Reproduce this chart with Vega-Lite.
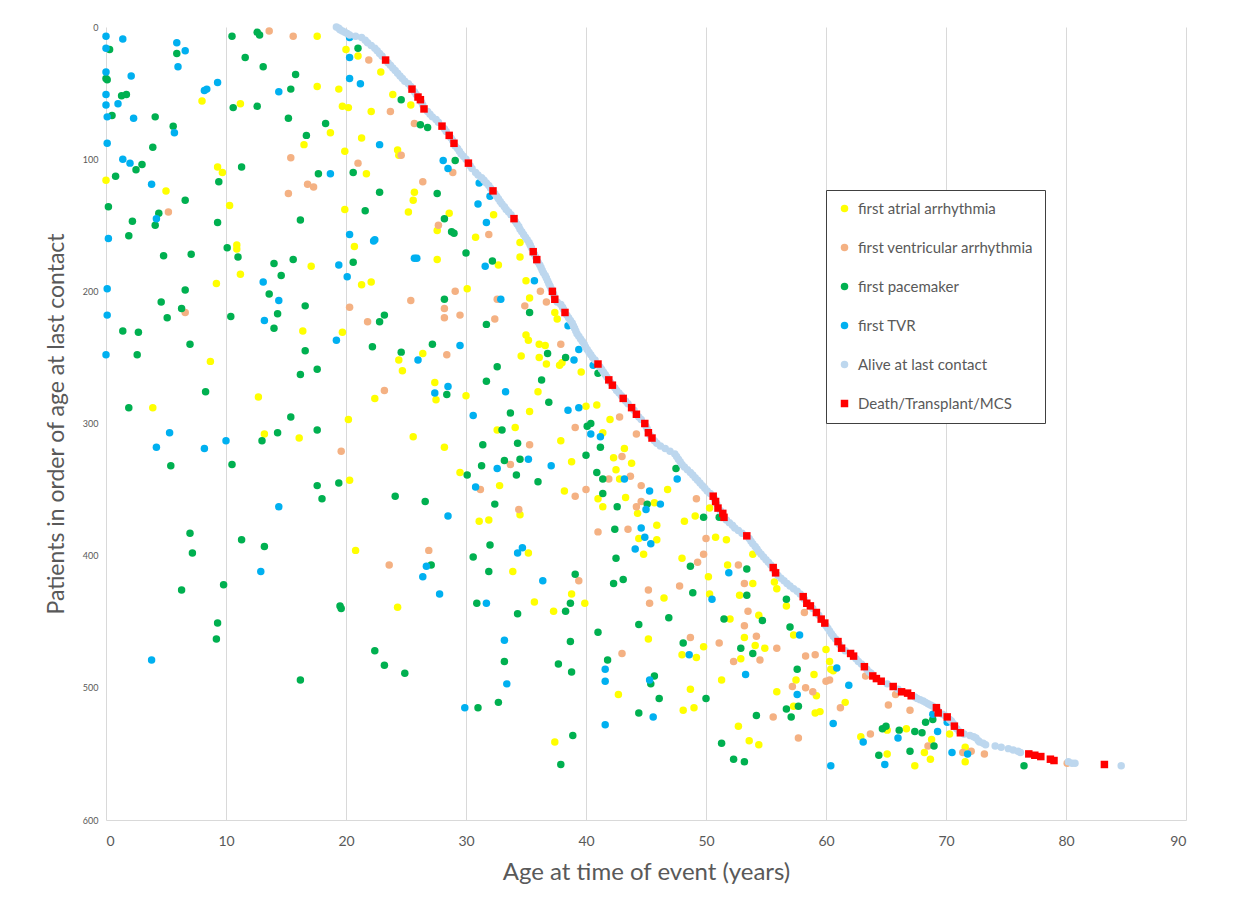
{
"$schema":"https://vega.github.io/schema/vega-lite/v6.json",
"width":1080,"height":793,
"autosize":{"type":"none"},
"padding":{"left":106,"top":27,"right":50,"bottom":84},
"background":"white",
"config":{"font":"Lato","view":{"stroke":null}},
"data":{"values":[
{"s":"a","x":17.6,"y":7},{"s":"a","x":20.0,"y":17},{"s":"a","x":21.0,"y":22},{"s":"a","x":22.9,"y":34},{"s":"a","x":23.9,"y":51},{"s":"a","x":25.4,"y":59},{"s":"a","x":17.6,"y":45},{"s":"a","x":19.4,"y":47},{"s":"a","x":19.7,"y":60},{"s":"a","x":20.2,"y":61},{"s":"a","x":22.1,"y":64},{"s":"a","x":21.3,"y":84},{"s":"a","x":18.7,"y":80},{"s":"a","x":16.5,"y":89},{"s":"a","x":19.9,"y":94},{"s":"a","x":24.3,"y":93},{"s":"a","x":24.4,"y":97},{"s":"a","x":21.7,"y":111},{"s":"a","x":25.7,"y":125},{"s":"a","x":25.6,"y":131},{"s":"a","x":25.2,"y":140},{"s":"a","x":28.6,"y":141},{"s":"a","x":27.6,"y":154},{"s":"a","x":27.6,"y":176},{"s":"a","x":19.9,"y":138},{"s":"a","x":20.7,"y":166},{"s":"a","x":17.1,"y":181},{"s":"a","x":21.3,"y":195},{"s":"a","x":22.1,"y":193},{"s":"a","x":11.2,"y":58},{"s":"a","x":8.0,"y":56},{"s":"a","x":0,"y":116},{"s":"a","x":5.0,"y":124},{"s":"a","x":9.3,"y":106},{"s":"a","x":9.7,"y":110},{"s":"a","x":10.3,"y":135},{"s":"a","x":10.9,"y":165},{"s":"a","x":10.9,"y":168},{"s":"a","x":11.2,"y":187},{"s":"a","x":9.2,"y":194},
{"s":"a","x":8.7,"y":253},{"s":"a","x":3.9,"y":288},{"s":"a","x":12.7,"y":280},{"s":"a","x":13.2,"y":308},{"s":"a","x":16.1,"y":311},{"s":"a","x":16.4,"y":230},{"s":"a","x":19.7,"y":231},{"s":"a","x":20.2,"y":297},{"s":"a","x":22.4,"y":281},{"s":"a","x":24.4,"y":252},{"s":"a","x":24.7,"y":260},{"s":"a","x":26.4,"y":247},{"s":"a","x":27.4,"y":269},{"s":"a","x":27.5,"y":282},{"s":"a","x":25.6,"y":310},{"s":"a","x":28.2,"y":318},{"s":"a","x":29.5,"y":337},{"s":"a","x":20.3,"y":343},{"s":"a","x":20.8,"y":396},{"s":"a","x":24.3,"y":439},
{"s":"a","x":30.8,"y":159},{"s":"a","x":32.3,"y":142},{"s":"a","x":32.7,"y":180},{"s":"a","x":34.5,"y":163},{"s":"a","x":34.5,"y":174},{"s":"a","x":35.0,"y":192},{"s":"a","x":35.3,"y":205},{"s":"a","x":30.1,"y":198},
{"s":"a","x":37.4,"y":216},{"s":"a","x":37.6,"y":221},{"s":"a","x":35.0,"y":233},{"s":"a","x":35.2,"y":237},{"s":"a","x":36.1,"y":240},{"s":"a","x":36.6,"y":241},{"s":"a","x":34.6,"y":249},{"s":"a","x":36.1,"y":250},{"s":"a","x":36.7,"y":255},{"s":"a","x":37.8,"y":256},{"s":"a","x":38.0,"y":254},{"s":"a","x":36.0,"y":276},{"s":"a","x":39.6,"y":261},{"s":"a","x":30.0,"y":279},{"s":"a","x":35.3,"y":291},{"s":"a","x":40.0,"y":287},{"s":"a","x":40.9,"y":286},{"s":"a","x":32.6,"y":305},{"s":"a","x":34.1,"y":303},{"s":"a","x":41.4,"y":307},{"s":"a","x":37.9,"y":313},{"s":"a","x":38.8,"y":329},{"s":"a","x":32.8,"y":347},{"s":"a","x":38.2,"y":351},{"s":"a","x":31.1,"y":374},{"s":"a","x":31.9,"y":373},{"s":"a","x":34.5,"y":369},{"s":"a","x":35.2,"y":398},{"s":"a","x":33.9,"y":412},{"s":"a","x":42.0,"y":297},{"s":"a","x":43.2,"y":319},{"s":"a","x":42.3,"y":326},{"s":"a","x":43.8,"y":330},{"s":"a","x":42.5,"y":335},{"s":"a","x":42.8,"y":342},{"s":"a","x":41.0,"y":357},{"s":"a","x":41.4,"y":363},{"s":"a","x":43.3,"y":356},{"s":"a","x":44.3,"y":368},{"s":"a","x":45.7,"y":360},{"s":"a","x":45.9,"y":377},{"s":"a","x":45.9,"y":388},{"s":"a","x":44.8,"y":399},{"s":"a","x":44.4,"y":387},{"s":"a","x":46.8,"y":350},{"s":"a","x":48.2,"y":374},{"s":"a","x":49.1,"y":370},{"s":"a","x":48.0,"y":402},{"s":"a","x":50.2,"y":416},{"s":"a","x":50.8,"y":386},{"s":"a","x":51.7,"y":388},{"s":"a","x":50.3,"y":364},{"s":"a","x":51.8,"y":407},{"s":"a","x":53.9,"y":399},{"s":"a","x":53.9,"y":421},{"s":"a","x":55.7,"y":420},{"s":"a","x":55.9,"y":425},{"s":"a","x":46.5,"y":432},{"s":"a","x":50.3,"y":429},{"s":"a","x":52.8,"y":430},
{"s":"a","x":35.7,"y":435},{"s":"a","x":37.3,"y":442},{"s":"a","x":39.9,"y":436},{"s":"a","x":38.8,"y":429},{"s":"a","x":45.2,"y":463},{"s":"a","x":48.7,"y":501},{"s":"a","x":48.1,"y":517},{"s":"a","x":49.0,"y":515},{"s":"a","x":48.0,"y":475},{"s":"a","x":49.2,"y":477},{"s":"a","x":49.8,"y":469},{"s":"a","x":51.3,"y":494},{"s":"a","x":52.0,"y":448},{"s":"a","x":53.2,"y":462},{"s":"a","x":52.9,"y":478},{"s":"a","x":54.1,"y":468},{"s":"a","x":54.9,"y":470},{"s":"a","x":54.4,"y":445},{"s":"a","x":56.7,"y":438},{"s":"a","x":57.3,"y":460},{"s":"a","x":55.9,"y":503},{"s":"a","x":57.5,"y":494},{"s":"a","x":57.3,"y":514},{"s":"a","x":59.0,"y":490},{"s":"a","x":59.2,"y":506},{"s":"a","x":59.1,"y":519},{"s":"a","x":59.5,"y":518},{"s":"a","x":60.0,"y":471},{"s":"a","x":60.3,"y":480},{"s":"a","x":60.4,"y":486},{"s":"a","x":52.7,"y":529},{"s":"a","x":53.6,"y":540},{"s":"a","x":54.4,"y":543},{"s":"a","x":37.4,"y":541},{"s":"a","x":42.7,"y":505},
{"s":"a","x":60.6,"y":487},{"s":"a","x":61.6,"y":511},{"s":"a","x":62.9,"y":537},{"s":"a","x":65.1,"y":532},{"s":"a","x":66.7,"y":531},{"s":"a","x":65.1,"y":550},{"s":"a","x":67.4,"y":559},{"s":"a","x":68.2,"y":549},{"s":"a","x":68.7,"y":554},{"s":"a","x":68.8,"y":539},{"s":"a","x":70.3,"y":535},{"s":"a","x":71.6,"y":545},{"s":"a","x":71.6,"y":556},
{"s":"v","x":13.6,"y":3},{"s":"v","x":15.6,"y":7},{"s":"v","x":21.9,"y":25},{"s":"v","x":23.7,"y":64},{"s":"v","x":25.7,"y":73},{"s":"v","x":24.6,"y":97},{"s":"v","x":15.4,"y":99},{"s":"v","x":21.0,"y":103},{"s":"v","x":26.4,"y":117},{"s":"v","x":28.9,"y":110},{"s":"v","x":16.8,"y":119},{"s":"v","x":17.3,"y":121},{"s":"v","x":15.2,"y":126},{"s":"v","x":5.2,"y":140},{"s":"v","x":27.7,"y":150},{"s":"v","x":29.1,"y":200},{"s":"v","x":25.4,"y":207},{"s":"v","x":20.3,"y":212},{"s":"v","x":28.2,"y":213},
{"s":"v","x":6.6,"y":216},{"s":"v","x":21.8,"y":223},{"s":"v","x":23.2,"y":275},{"s":"v","x":19.6,"y":321},{"s":"v","x":28.2,"y":220},{"s":"v","x":28.4,"y":248},{"s":"v","x":29.5,"y":218},{"s":"v","x":26.9,"y":396},{"s":"v","x":23.6,"y":407},
{"s":"v","x":31.9,"y":157},{"s":"v","x":36.2,"y":200},{"s":"v","x":36.7,"y":208},{"s":"v","x":34.9,"y":211},{"s":"v","x":32.6,"y":206},
{"s":"v","x":32.4,"y":221},{"s":"v","x":37.9,"y":240},{"s":"v","x":39.1,"y":303},{"s":"v","x":35.3,"y":316},{"s":"v","x":33.7,"y":331},{"s":"v","x":31.2,"y":350},{"s":"v","x":40.0,"y":350},{"s":"v","x":39.1,"y":355},{"s":"v","x":34.4,"y":365},{"s":"v","x":39.4,"y":419},{"s":"v","x":42.8,"y":295},{"s":"v","x":44.2,"y":308},{"s":"v","x":43.0,"y":325},{"s":"v","x":41.9,"y":342},{"s":"v","x":43.7,"y":340},{"s":"v","x":44.2,"y":363},{"s":"v","x":44.6,"y":347},{"s":"v","x":44.6,"y":359},{"s":"v","x":41.0,"y":382},{"s":"v","x":43.5,"y":380},{"s":"v","x":49.2,"y":357},{"s":"v","x":50.0,"y":387},{"s":"v","x":49.8,"y":399},{"s":"v","x":49.3,"y":405},{"s":"v","x":52.7,"y":407},{"s":"v","x":53.2,"y":421},{"s":"v","x":47.8,"y":423},{"s":"v","x":45.2,"y":426},
{"s":"v","x":45.3,"y":436},{"s":"v","x":53.5,"y":442},{"s":"v","x":53.2,"y":453},{"s":"v","x":54.2,"y":461},{"s":"v","x":51.1,"y":466},{"s":"v","x":52.3,"y":480},{"s":"v","x":54.5,"y":479},{"s":"v","x":55.9,"y":470},{"s":"v","x":58.3,"y":476},{"s":"v","x":59.1,"y":475},{"s":"v","x":58.3,"y":500},{"s":"v","x":57.2,"y":499},{"s":"v","x":58.9,"y":503},{"s":"v","x":55.6,"y":522},{"s":"v","x":57.7,"y":538},{"s":"v","x":43.0,"y":474},{"s":"v","x":48.7,"y":462},{"s":"v","x":58.2,"y":443},{"s":"v","x":60.0,"y":495},{"s":"v","x":60.3,"y":494},{"s":"v","x":61.2,"y":515},
{"s":"v","x":63.3,"y":491},{"s":"v","x":63.7,"y":535},{"s":"v","x":65.2,"y":513},{"s":"v","x":65.8,"y":505},{"s":"v","x":67.0,"y":517},{"s":"v","x":68.5,"y":544},{"s":"v","x":71.4,"y":549},{"s":"v","x":72.1,"y":548},{"s":"v","x":73.2,"y":550},{"s":"v","x":80.1,"y":557},
{"s":"p","x":0.3,"y":17},{"s":"p","x":0,"y":39},{"s":"p","x":0.1,"y":40},{"s":"p","x":1.3,"y":52},{"s":"p","x":1.7,"y":51},{"s":"p","x":0.5,"y":67},{"s":"p","x":4.1,"y":68},{"s":"p","x":5.6,"y":75},{"s":"p","x":3.9,"y":91},{"s":"p","x":2.5,"y":108},{"s":"p","x":3.0,"y":104},{"s":"p","x":0.8,"y":113},{"s":"p","x":0.2,"y":136},{"s":"p","x":2.2,"y":147},{"s":"p","x":4.4,"y":141},{"s":"p","x":4.1,"y":150},{"s":"p","x":1.9,"y":158},{"s":"p","x":4.8,"y":173},{"s":"p","x":7.1,"y":172},{"s":"p","x":6.6,"y":131},{"s":"p","x":5.9,"y":20},{"s":"p","x":10.5,"y":7},{"s":"p","x":12.6,"y":4},{"s":"p","x":12.8,"y":6},{"s":"p","x":11.6,"y":23},{"s":"p","x":13.1,"y":30},{"s":"p","x":15.8,"y":36},{"s":"p","x":15.4,"y":47},{"s":"p","x":10.6,"y":61},{"s":"p","x":12.6,"y":60},{"s":"p","x":15.2,"y":69},{"s":"p","x":18.3,"y":73},{"s":"p","x":16.7,"y":82},{"s":"p","x":17.7,"y":111},{"s":"p","x":11.3,"y":106},{"s":"p","x":9.4,"y":117},{"s":"p","x":9.3,"y":148},{"s":"p","x":10.1,"y":167},{"s":"p","x":11.0,"y":174},{"s":"p","x":16.2,"y":146},{"s":"p","x":14.0,"y":179},{"s":"p","x":14.6,"y":188},{"s":"p","x":13.6,"y":202},{"s":"p","x":15.6,"y":176},{"s":"p","x":20.6,"y":178},{"s":"p","x":20.6,"y":110},{"s":"p","x":21.6,"y":139},{"s":"p","x":22.8,"y":125},{"s":"p","x":24.6,"y":55},{"s":"p","x":26.2,"y":74},{"s":"p","x":26.8,"y":76},{"s":"p","x":27.6,"y":126},{"s":"p","x":28.2,"y":145},{"s":"p","x":28.8,"y":155},{"s":"p","x":29.0,"y":156},{"s":"p","x":29.1,"y":101},{"s":"p","x":21.0,"y":16},{"s":"p","x":16.6,"y":211},{"s":"p","x":6.6,"y":199},{"s":"p","x":4.6,"y":208},{"s":"p","x":28.2,"y":206},
{"s":"p","x":5.1,"y":220},{"s":"p","x":6.3,"y":213},{"s":"p","x":1.4,"y":230},{"s":"p","x":2.7,"y":231},{"s":"p","x":2.6,"y":248},{"s":"p","x":7.0,"y":240},{"s":"p","x":8.3,"y":276},{"s":"p","x":1.9,"y":288},{"s":"p","x":5.4,"y":332},{"s":"p","x":10.5,"y":331},{"s":"p","x":10.4,"y":219},{"s":"p","x":14.3,"y":217},{"s":"p","x":14.0,"y":228},{"s":"p","x":16.6,"y":245},{"s":"p","x":16.2,"y":263},{"s":"p","x":17.6,"y":259},{"s":"p","x":15.4,"y":295},{"s":"p","x":14.3,"y":307},{"s":"p","x":13.0,"y":313},{"s":"p","x":17.6,"y":305},{"s":"p","x":17.6,"y":347},{"s":"p","x":18.0,"y":357},{"s":"p","x":19.4,"y":345},{"s":"p","x":22.2,"y":242},{"s":"p","x":22.8,"y":223},{"s":"p","x":23.2,"y":218},{"s":"p","x":24.6,"y":246},{"s":"p","x":27.2,"y":240},{"s":"p","x":28.4,"y":278},{"s":"p","x":24.1,"y":355},{"s":"p","x":26.6,"y":359},{"s":"p","x":7.0,"y":383},{"s":"p","x":7.2,"y":398},{"s":"p","x":11.3,"y":388},{"s":"p","x":13.2,"y":393},{"s":"p","x":9.8,"y":422},{"s":"p","x":6.3,"y":426},{"s":"p","x":27.1,"y":407},
{"s":"p","x":9.3,"y":451},{"s":"p","x":9.2,"y":463},{"s":"p","x":16.2,"y":494},{"s":"p","x":19.5,"y":438},{"s":"p","x":19.6,"y":440},{"s":"p","x":22.4,"y":472},{"s":"p","x":23.2,"y":483},{"s":"p","x":24.9,"y":489},{"s":"p","x":30.0,"y":171},{"s":"p","x":32.2,"y":177},
{"s":"p","x":35.3,"y":216},{"s":"p","x":31.7,"y":225},{"s":"p","x":36.8,"y":247},{"s":"p","x":38.3,"y":250},{"s":"p","x":32.6,"y":257},{"s":"p","x":31.7,"y":268},{"s":"p","x":36.3,"y":267},{"s":"p","x":41.0,"y":262},{"s":"p","x":33.7,"y":292},{"s":"p","x":36.9,"y":284},{"s":"p","x":33.0,"y":305},{"s":"p","x":40.1,"y":302},{"s":"p","x":40.4,"y":300},{"s":"p","x":41.2,"y":318},{"s":"p","x":31.4,"y":316},{"s":"p","x":33.2,"y":328},{"s":"p","x":34.5,"y":327},{"s":"p","x":34.3,"y":315},{"s":"p","x":31.3,"y":332},{"s":"p","x":34.2,"y":339},{"s":"p","x":30.1,"y":339},{"s":"p","x":40.0,"y":324},{"s":"p","x":36.0,"y":344},{"s":"p","x":32.4,"y":361},{"s":"p","x":32.0,"y":392},{"s":"p","x":30.6,"y":401},{"s":"p","x":31.9,"y":412},{"s":"p","x":39.1,"y":414},{"s":"p","x":41.4,"y":342},{"s":"p","x":40.9,"y":337},{"s":"p","x":41.4,"y":353},{"s":"p","x":42.6,"y":363},{"s":"p","x":45.1,"y":361},{"s":"p","x":42.4,"y":380},{"s":"p","x":42.5,"y":402},{"s":"p","x":42.3,"y":421},{"s":"p","x":43.1,"y":418},{"s":"p","x":49.8,"y":371},{"s":"p","x":47.5,"y":334},{"s":"p","x":48.7,"y":408},{"s":"p","x":51.1,"y":371},{"s":"p","x":53.4,"y":410},{"s":"p","x":53.4,"y":430},{"s":"p","x":48.9,"y":428},{"s":"p","x":56.7,"y":433},
{"s":"p","x":30.9,"y":436},{"s":"p","x":31.0,"y":515},{"s":"p","x":32.7,"y":511},{"s":"p","x":34.3,"y":444},{"s":"p","x":33.2,"y":480},{"s":"p","x":37.7,"y":482},{"s":"p","x":38.8,"y":488},{"s":"p","x":38.7,"y":465},{"s":"p","x":38.3,"y":442},{"s":"p","x":38.7,"y":436},{"s":"p","x":38.9,"y":536},{"s":"p","x":37.9,"y":558},{"s":"p","x":41.0,"y":458},{"s":"p","x":41.8,"y":479},{"s":"p","x":44.4,"y":452},{"s":"p","x":45.7,"y":491},{"s":"p","x":45.4,"y":497},{"s":"p","x":46.1,"y":508},{"s":"p","x":46.9,"y":447},{"s":"p","x":44.4,"y":519},{"s":"p","x":48.1,"y":466},{"s":"p","x":51.5,"y":448},{"s":"p","x":50.0,"y":508},{"s":"p","x":54.7,"y":449},{"s":"p","x":52.9,"y":470},{"s":"p","x":53.9,"y":474},{"s":"p","x":57.0,"y":454},{"s":"p","x":57.6,"y":486},{"s":"p","x":57.7,"y":514},{"s":"p","x":56.7,"y":516},{"s":"p","x":57.1,"y":522},{"s":"p","x":54.2,"y":521},{"s":"p","x":51.3,"y":542},{"s":"p","x":52.3,"y":554},{"s":"p","x":53.2,"y":556},
{"s":"p","x":64.7,"y":531},{"s":"p","x":65.0,"y":529},{"s":"p","x":66.1,"y":532},{"s":"p","x":67.4,"y":533},{"s":"p","x":68.0,"y":534},{"s":"p","x":68.3,"y":526},{"s":"p","x":68.9,"y":524},{"s":"p","x":64.4,"y":551},{"s":"p","x":67.0,"y":548},{"s":"p","x":69.0,"y":544},{"s":"p","x":76.5,"y":559},
{"s":"t","x":0,"y":7},{"s":"t","x":1.4,"y":9},{"s":"t","x":0,"y":16},{"s":"t","x":0,"y":34},{"s":"t","x":2.1,"y":37},{"s":"t","x":0,"y":51},{"s":"t","x":1.0,"y":58},{"s":"t","x":0,"y":59},{"s":"t","x":2.3,"y":69},{"s":"t","x":0.1,"y":68},{"s":"t","x":0.1,"y":88},{"s":"t","x":1.4,"y":100},{"s":"t","x":2.0,"y":103},{"s":"t","x":3.8,"y":119},{"s":"t","x":4.2,"y":145},{"s":"t","x":0.2,"y":160},{"s":"t","x":0.1,"y":198},{"s":"t","x":5.9,"y":12},{"s":"t","x":6.6,"y":18},{"s":"t","x":6.0,"y":30},{"s":"t","x":9.3,"y":42},{"s":"t","x":8.4,"y":47},{"s":"t","x":8.2,"y":48},{"s":"t","x":14.4,"y":49},{"s":"t","x":5.7,"y":80},{"s":"t","x":20.3,"y":8},{"s":"t","x":20.3,"y":23},{"s":"t","x":20.3,"y":39},{"s":"t","x":21.2,"y":43},{"s":"t","x":22.8,"y":89},{"s":"t","x":18.7,"y":111},{"s":"t","x":28.1,"y":101},{"s":"t","x":28.5,"y":107},{"s":"t","x":20.3,"y":157},{"s":"t","x":22.4,"y":161},{"s":"t","x":22.3,"y":162},{"s":"t","x":25.7,"y":175},{"s":"t","x":25.9,"y":175},{"s":"t","x":19.4,"y":180},{"s":"t","x":20.1,"y":189},{"s":"t","x":13.1,"y":193},{"s":"t","x":14.4,"y":207},
{"s":"t","x":0.1,"y":218},{"s":"t","x":0,"y":248},{"s":"t","x":5.3,"y":307},{"s":"t","x":4.2,"y":318},{"s":"t","x":8.2,"y":319},{"s":"t","x":10.0,"y":313},{"s":"t","x":13.2,"y":222},{"s":"t","x":19.2,"y":237},{"s":"t","x":26.0,"y":252},{"s":"t","x":28.5,"y":272},{"s":"t","x":27.4,"y":277},{"s":"t","x":29.5,"y":241},{"s":"t","x":14.4,"y":363},{"s":"t","x":28.5,"y":370},{"s":"t","x":12.9,"y":412},{"s":"t","x":26.7,"y":408},{"s":"t","x":26.4,"y":416},{"s":"t","x":27.8,"y":429},{"s":"t","x":3.8,"y":479},
{"s":"t","x":31.1,"y":118},{"s":"t","x":32.0,"y":128},{"s":"t","x":31.0,"y":134},{"s":"t","x":31.7,"y":148},{"s":"t","x":31.6,"y":181},{"s":"t","x":35.7,"y":192},{"s":"t","x":32.9,"y":206},
{"s":"t","x":39.0,"y":252},{"s":"t","x":39.4,"y":244},{"s":"t","x":40.6,"y":256},{"s":"t","x":38.5,"y":226},{"s":"t","x":33.3,"y":276},{"s":"t","x":30.6,"y":294},{"s":"t","x":38.5,"y":290},{"s":"t","x":39.4,"y":288},{"s":"t","x":40.4,"y":308},{"s":"t","x":41.2,"y":310},{"s":"t","x":35.2,"y":327},{"s":"t","x":32.6,"y":334},{"s":"t","x":37.1,"y":332},{"s":"t","x":30.8,"y":348},{"s":"t","x":34.3,"y":398},{"s":"t","x":34.7,"y":394},{"s":"t","x":36.4,"y":419},{"s":"t","x":43.2,"y":342},{"s":"t","x":45.3,"y":351},{"s":"t","x":45.0,"y":365},{"s":"t","x":46.2,"y":361},{"s":"t","x":44.6,"y":379},{"s":"t","x":44.9,"y":386},{"s":"t","x":45.4,"y":391},{"s":"t","x":44.1,"y":395},{"s":"t","x":47.6,"y":342},{"s":"t","x":51.9,"y":413},{"s":"t","x":50.5,"y":433},
{"s":"t","x":31.7,"y":436},{"s":"t","x":33.2,"y":464},{"s":"t","x":33.4,"y":497},{"s":"t","x":29.9,"y":515},{"s":"t","x":41.6,"y":486},{"s":"t","x":41.6,"y":495},{"s":"t","x":45.3,"y":494},{"s":"t","x":45.6,"y":522},{"s":"t","x":41.6,"y":528},{"s":"t","x":48.6,"y":475},{"s":"t","x":53.3,"y":490},{"s":"t","x":57.8,"y":460},{"s":"t","x":57.6,"y":505},{"s":"t","x":60.6,"y":527},{"s":"t","x":60.4,"y":559},{"s":"t","x":60.9,"y":485},
{"s":"t","x":61.9,"y":498},{"s":"t","x":63.1,"y":541},{"s":"t","x":66.0,"y":538},{"s":"t","x":64.9,"y":558},{"s":"t","x":68.9,"y":520},{"s":"t","x":69.3,"y":533},{"s":"t","x":70.5,"y":549},{"s":"t","x":71.8,"y":550},{"s":"t","x":70.1,"y":526},
{"s":"l","x":19.2,"y":0},{"s":"l","x":19.4,"y":1},{"s":"l","x":19.5,"y":2},{"s":"l","x":19.7,"y":3},{"s":"l","x":19.9,"y":4},{"s":"l","x":20.1,"y":5},{"s":"l","x":20.3,"y":6},{"s":"l","x":20.8,"y":7},{"s":"l","x":21.3,"y":8},{"s":"l","x":21.6,"y":10},{"s":"l","x":21.8,"y":12},{"s":"l","x":22.1,"y":14},{"s":"l","x":22.4,"y":16},{"s":"l","x":22.6,"y":18},{"s":"l","x":22.8,"y":20},{"s":"l","x":23.0,"y":22},{"s":"l","x":23.5,"y":27},{"s":"l","x":23.7,"y":29},{"s":"l","x":23.9,"y":31},{"s":"l","x":24.1,"y":33},{"s":"l","x":24.3,"y":35},{"s":"l","x":24.5,"y":37},{"s":"l","x":24.7,"y":39},{"s":"l","x":24.9,"y":41},{"s":"l","x":25.2,"y":43},{"s":"l","x":25.4,"y":45},{"s":"l","x":25.7,"y":49},{"s":"l","x":25.85,"y":51},{"s":"l","x":26.3,"y":57},{"s":"l","x":26.4,"y":59},{"s":"l","x":26.8,"y":64},{"s":"l","x":27.0,"y":66},{"s":"l","x":27.2,"y":68},{"s":"l","x":27.5,"y":70},{"s":"l","x":27.7,"y":72},{"s":"l","x":28.2,"y":77},{"s":"l","x":28.35,"y":79},{"s":"l","x":28.75,"y":84},{"s":"l","x":28.9,"y":86},{"s":"l","x":29.1,"y":90},{"s":"l","x":29.3,"y":92},{"s":"l","x":29.45,"y":94},{"s":"l","x":29.6,"y":96},{"s":"l","x":29.8,"y":98},{"s":"l","x":30.0,"y":100},{"s":"l","x":30.35,"y":105},{"s":"l","x":30.5,"y":107},{"s":"l","x":30.8,"y":110},{"s":"l","x":31.0,"y":112},{"s":"l","x":31.3,"y":114},{"s":"l","x":31.5,"y":116},{"s":"l","x":31.7,"y":118},{"s":"l","x":31.9,"y":120},{"s":"l","x":32.05,"y":122},{"s":"l","x":32.4,"y":126},{"s":"l","x":32.55,"y":128},{"s":"l","x":32.7,"y":130},{"s":"l","x":32.85,"y":132},{"s":"l","x":33.0,"y":134},{"s":"l","x":33.2,"y":136},{"s":"l","x":33.35,"y":138},{"s":"l","x":33.55,"y":140},{"s":"l","x":33.75,"y":142},{"s":"l","x":34.1,"y":147},{"s":"l","x":34.25,"y":149},{"s":"l","x":34.4,"y":151},{"s":"l","x":34.5,"y":153},{"s":"l","x":34.65,"y":155},{"s":"l","x":34.8,"y":157},{"s":"l","x":34.95,"y":159},{"s":"l","x":35.1,"y":161},{"s":"l","x":35.25,"y":163},{"s":"l","x":35.35,"y":165},{"s":"l","x":35.45,"y":167},{"s":"l","x":35.7,"y":172},{"s":"l","x":35.8,"y":174},{"s":"l","x":36.0,"y":178},{"s":"l","x":36.15,"y":180},{"s":"l","x":36.25,"y":182},{"s":"l","x":36.35,"y":184},{"s":"l","x":36.45,"y":186},{"s":"l","x":36.6,"y":188},{"s":"l","x":36.7,"y":190},{"s":"l","x":36.8,"y":192},{"s":"l","x":36.9,"y":194},{"s":"l","x":37.0,"y":196},{"s":"l","x":37.1,"y":198},{"s":"l","x":37.3,"y":202},{"s":"l","x":37.35,"y":204},{"s":"l","x":37.6,"y":208},{"s":"l","x":37.9,"y":210},{"s":"l","x":38.05,"y":212},{"s":"l","x":38.15,"y":214},{"s":"l","x":38.4,"y":218},{"s":"l","x":38.55,"y":220},{"s":"l","x":38.7,"y":222},{"s":"l","x":38.85,"y":224},{"s":"l","x":38.95,"y":226},{"s":"l","x":39.05,"y":228},{"s":"l","x":39.15,"y":230},{"s":"l","x":39.25,"y":232},{"s":"l","x":39.4,"y":234},{"s":"l","x":39.55,"y":236},{"s":"l","x":39.7,"y":238},{"s":"l","x":39.85,"y":240},{"s":"l","x":39.95,"y":242},{"s":"l","x":40.1,"y":244},{"s":"l","x":40.25,"y":246},{"s":"l","x":40.4,"y":248},{"s":"l","x":40.55,"y":250},{"s":"l","x":40.75,"y":252},{"s":"l","x":41.15,"y":257},{"s":"l","x":41.3,"y":259},{"s":"l","x":41.45,"y":261},{"s":"l","x":41.6,"y":263},{"s":"l","x":41.75,"y":265},{"s":"l","x":42.05,"y":269},{"s":"l","x":42.4,"y":273},{"s":"l","x":42.55,"y":275},{"s":"l","x":42.75,"y":277},{"s":"l","x":42.95,"y":279},{"s":"l","x":43.3,"y":283},{"s":"l","x":43.5,"y":285},{"s":"l","x":44.0,"y":290},{"s":"l","x":44.4,"y":295},{"s":"l","x":44.6,"y":297},{"s":"l","x":45.0,"y":302},{"s":"l","x":45.1,"y":304},{"s":"l","x":45.35,"y":309},{"s":"l","x":45.7,"y":313},{"s":"l","x":45.9,"y":315},{"s":"l","x":46.2,"y":317},{"s":"l","x":46.6,"y":319},{"s":"l","x":47.0,"y":321},{"s":"l","x":47.4,"y":323},{"s":"l","x":47.55,"y":325},{"s":"l","x":47.7,"y":327},{"s":"l","x":47.85,"y":329},{"s":"l","x":48.0,"y":331},{"s":"l","x":48.2,"y":333},{"s":"l","x":48.45,"y":335},{"s":"l","x":48.7,"y":337},{"s":"l","x":48.9,"y":339},{"s":"l","x":49.1,"y":341},{"s":"l","x":49.3,"y":343},{"s":"l","x":49.5,"y":345},{"s":"l","x":49.7,"y":347},{"s":"l","x":49.9,"y":349},{"s":"l","x":50.1,"y":351},{"s":"l","x":50.35,"y":353},{"s":"l","x":50.7,"y":357},{"s":"l","x":50.9,"y":361},{"s":"l","x":51.2,"y":366},{"s":"l","x":51.7,"y":373},{"s":"l","x":51.95,"y":375},{"s":"l","x":52.2,"y":377},{"s":"l","x":52.4,"y":379},{"s":"l","x":52.7,"y":381},{"s":"l","x":53.0,"y":383},{"s":"l","x":53.6,"y":387},{"s":"l","x":53.75,"y":389},{"s":"l","x":53.9,"y":391},{"s":"l","x":54.1,"y":393},{"s":"l","x":54.25,"y":395},{"s":"l","x":54.4,"y":397},{"s":"l","x":54.6,"y":399},{"s":"l","x":54.8,"y":401},{"s":"l","x":55.0,"y":403},{"s":"l","x":55.2,"y":405},{"s":"l","x":55.4,"y":407},{"s":"l","x":55.7,"y":411},{"s":"l","x":56.0,"y":415},{"s":"l","x":56.25,"y":417},{"s":"l","x":56.5,"y":419},{"s":"l","x":56.75,"y":421},{"s":"l","x":57.0,"y":423},{"s":"l","x":57.3,"y":425},{"s":"l","x":57.6,"y":427},{"s":"l","x":57.85,"y":429},{"s":"l","x":58.2,"y":433},{"s":"l","x":58.9,"y":440},{"s":"l","x":59.4,"y":445},{"s":"l","x":60.0,"y":453},{"s":"l","x":60.15,"y":455},{"s":"l","x":60.3,"y":457},{"s":"l","x":60.45,"y":459},{"s":"l","x":60.6,"y":461},{"s":"l","x":60.8,"y":463},{"s":"l","x":61.1,"y":467},{"s":"l","x":61.6,"y":472},{"s":"l","x":62.5,"y":478},{"s":"l","x":62.7,"y":480},{"s":"l","x":62.95,"y":482},{"s":"l","x":63.4,"y":486},{"s":"l","x":63.6,"y":488},{"s":"l","x":63.75,"y":489},{"s":"l","x":65.1,"y":497},{"s":"l","x":66.0,"y":501},{"s":"l","x":67.4,"y":507},{"s":"l","x":67.6,"y":508},{"s":"l","x":67.85,"y":509},{"s":"l","x":68.1,"y":510},{"s":"l","x":68.3,"y":511},{"s":"l","x":68.5,"y":512},{"s":"l","x":68.7,"y":513},{"s":"l","x":68.9,"y":514},{"s":"l","x":69.3,"y":517},{"s":"l","x":69.7,"y":520},{"s":"l","x":69.9,"y":521},{"s":"l","x":70.3,"y":524},{"s":"l","x":70.45,"y":525},{"s":"l","x":70.6,"y":527},{"s":"l","x":70.9,"y":531},{"s":"l","x":71.1,"y":533},{"s":"l","x":71.5,"y":535},{"s":"l","x":72.0,"y":536},{"s":"l","x":72.3,"y":537},{"s":"l","x":72.5,"y":538},{"s":"l","x":72.7,"y":540},{"s":"l","x":72.8,"y":541},{"s":"l","x":73.1,"y":542},{"s":"l","x":73.3,"y":543},{"s":"l","x":74.1,"y":544},{"s":"l","x":74.6,"y":545},{"s":"l","x":75.2,"y":546},{"s":"l","x":75.6,"y":547},{"s":"l","x":76.0,"y":548},{"s":"l","x":76.2,"y":549},{"s":"l","x":80.2,"y":556},{"s":"l","x":80.5,"y":557},{"s":"l","x":80.75,"y":557},{"s":"l","x":84.6,"y":559},
{"s":"d","x":23.3,"y":25},{"s":"d","x":25.5,"y":47},{"s":"d","x":26.0,"y":53},{"s":"d","x":26.2,"y":55},{"s":"d","x":26.5,"y":62},{"s":"d","x":28.0,"y":75},{"s":"d","x":28.6,"y":82},{"s":"d","x":29.0,"y":88},{"s":"d","x":30.2,"y":103},{"s":"d","x":32.25,"y":124},{"s":"d","x":34.0,"y":145},{"s":"d","x":35.6,"y":170},{"s":"d","x":35.9,"y":176},{"s":"d","x":37.2,"y":200},{"s":"d","x":37.4,"y":206},{"s":"d","x":38.25,"y":216},{"s":"d","x":41.0,"y":255},{"s":"d","x":41.9,"y":267},{"s":"d","x":42.2,"y":271},{"s":"d","x":43.1,"y":281},{"s":"d","x":43.8,"y":288},{"s":"d","x":44.2,"y":293},{"s":"d","x":44.9,"y":300},{"s":"d","x":45.2,"y":307},{"s":"d","x":45.5,"y":311},{"s":"d","x":50.6,"y":355},{"s":"d","x":50.8,"y":359},{"s":"d","x":51.0,"y":364},{"s":"d","x":51.4,"y":368},{"s":"d","x":51.5,"y":371},{"s":"d","x":53.4,"y":385},{"s":"d","x":55.6,"y":409},{"s":"d","x":55.8,"y":413},{"s":"d","x":58.1,"y":431},{"s":"d","x":58.4,"y":436},{"s":"d","x":58.7,"y":438},{"s":"d","x":59.2,"y":443},{"s":"d","x":59.6,"y":448},{"s":"d","x":59.9,"y":451},{"s":"d","x":61.0,"y":465},{"s":"d","x":61.3,"y":470},{"s":"d","x":62.05,"y":474},{"s":"d","x":62.3,"y":476},{"s":"d","x":63.2,"y":484},{"s":"d","x":63.9,"y":491},{"s":"d","x":64.2,"y":493},{"s":"d","x":64.6,"y":495},{"s":"d","x":65.6,"y":499},{"s":"d","x":66.3,"y":503},{"s":"d","x":66.8,"y":504},{"s":"d","x":67.1,"y":506},{"s":"d","x":69.2,"y":515},{"s":"d","x":69.35,"y":519},{"s":"d","x":70.1,"y":522},{"s":"d","x":70.7,"y":529},{"s":"d","x":71.2,"y":534},{"s":"d","x":76.9,"y":550},{"s":"d","x":77.4,"y":551},{"s":"d","x":77.9,"y":552},{"s":"d","x":78.7,"y":554},{"s":"d","x":79.0,"y":555},{"s":"d","x":83.2,"y":558}
]},
"mark":{"type":"point","filled":true,"opacity":1},
"encoding":{
"x":{"field":"x","type":"quantitative","scale":{"domain":[0,90],"nice":false,"zero":false},
"axis":{"values":[0,10,20,30,40,50,60,70,80,90],"title":"Age at time of event (years)","grid":true,"gridColor":"#d9d9d9","domainColor":"#d9d9d9","ticks":false,"labelFontSize":14,"labelColor":"#595959","labelPadding":14,"titleFontSize":24,"titleFontWeight":"normal","titleColor":"#595959","titlePadding":12}},
"y":{"field":"y","type":"quantitative","scale":{"domain":[0,600],"reverse":true,"nice":false},
"axis":{"values":[0,100,200,300,400,500,600],"title":"Patients in order of age at last contact","grid":false,"domain":false,"ticks":false,"labelFontSize":9,"labelColor":"#595959","labelPadding":8,"titleFontSize":23,"titleFontWeight":"normal","titleColor":"#595959","titlePadding":14}},
"color":{"field":"s","type":"nominal","scale":{"domain":["a","v","p","t","l","d"],"range":["#FFFF00","#F4B183","#00B050","#00B0F0","#BDD7EE","#FF0000"]},
"legend":{"title":null,"orient":"none","legendX":720,"legendY":163,"padding":11,"rowPadding":23,"strokeColor":"#404040","fillColor":"white","labelFontSize":15,"labelColor":"#595959","symbolSize":45,"labelOffset":6,"labelLimit":300,
"labelExpr":"datum.label=='a'?'first atrial arrhythmia':datum.label=='v'?'first ventricular arrhythmia':datum.label=='p'?'first pacemaker':datum.label=='t'?'first TVR':datum.label=='l'?'Alive at last contact':'Death/Transplant/MCS'"}},
"shape":{"field":"s","type":"nominal","scale":{"domain":["a","v","p","t","l","d"],"range":["circle","circle","circle","circle","circle","square"]},
"legend":{"title":null,"orient":"none","legendX":720,"legendY":163,"padding":11,"rowPadding":23,"strokeColor":"#404040","fillColor":"white","labelFontSize":15,"labelColor":"#595959","symbolSize":45,"labelOffset":6,"labelLimit":300,
"labelExpr":"datum.label=='a'?'first atrial arrhythmia':datum.label=='v'?'first ventricular arrhythmia':datum.label=='p'?'first pacemaker':datum.label=='t'?'first TVR':datum.label=='l'?'Alive at last contact':'Death/Transplant/MCS'"}},
"size":{"field":"s","type":"nominal","scale":{"domain":["a","v","p","t","l","d"],"range":[56,56,56,56,50,80]},"legend":null}
}
}
